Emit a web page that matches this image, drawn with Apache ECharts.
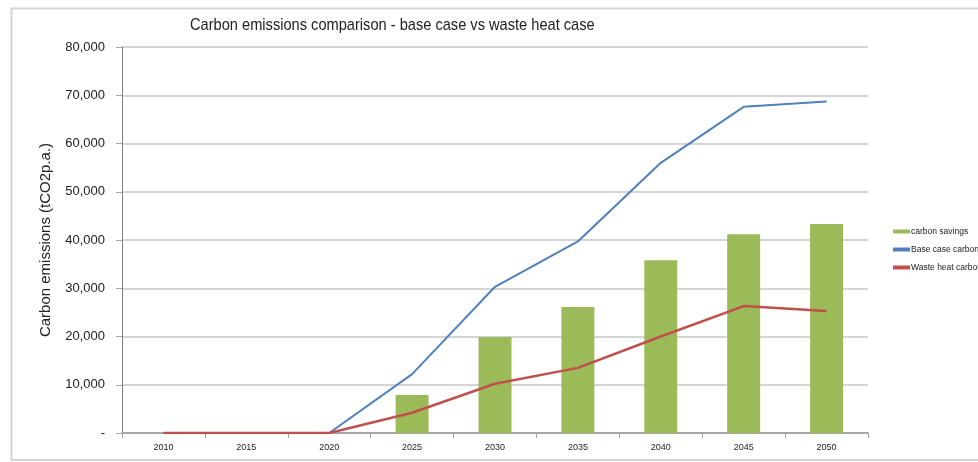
<!DOCTYPE html>
<html>
<head>
<meta charset="utf-8">
<script src="https://cdn.jsdelivr.net/npm/echarts@6/dist/echarts.min.js"></script>
<style>html,body{margin:0;padding:0;background:#fff;}#c{width:978px;height:462px;}</style>
</head>
<body>
<div id="c"></div>
<script>
const years = ['2010','2015','2020','2025','2030','2035','2040','2045','2050'];
const carbonSavings = [0, 0, 0, 7900, 19900, 26100, 35800, 41200, 43300];
const baseCaseCarbon = [0, 0, 0, 12200, 30300, 39700, 56000, 67600, 68700];
const wasteHeatCarbon = [0, 0, 0, 4200, 10200, 13500, 20000, 26300, 25300];
const titleText = 'Carbon emissions comparison - base case vs waste heat case';

const chart = echarts.init(document.getElementById('c'), null, {renderer: 'canvas'});
chart.setOption({
  animation: false,
  backgroundColor: '#fff',
  graphic: [{
    type: 'polyline', silent: true,
    shape: {points: [[990, 8.5], [11.5, 8.5], [11.5, 460], [990, 460]]},
    style: {stroke: '#d4d4d4', lineWidth: 2, fill: null}
  }, {
    type: 'text', silent: true, x: 190, y: 17, scaleX: 0.86,
    style: {text: titleText, fontFamily: 'Arial, Liberation Sans, sans-serif', fontSize: 17, fill: '#222'}
  }],
  legend: {
    orient: 'vertical', left: 893, top: 227, itemGap: 9, padding: 0,
    itemWidth: 17, itemHeight: 4,
    textStyle: {fontFamily: 'Arial, Liberation Sans, sans-serif', fontSize: 8.5, color: '#222', padding: [0, 0, 0, -4]},
    data: [
      {name: 'carbon savings', icon: 'rect'},
      {name: 'Base case carbon', icon: 'rect'},
      {name: 'Waste heat carbon', icon: 'rect'}
    ]
  },
  grid: {left: 122, right: 110, top: 47, bottom: 29, containLabel: false},
  xAxis: {
    type: 'category', data: years, boundaryGap: true,
    axisLine: {lineStyle: {color: '#a6a6a6', width: 2}},
    axisTick: {show: true, length: 5, lineStyle: {color: '#a6a6a6'}, alignWithLabel: false},
    axisLabel: {fontFamily: 'Arial, Liberation Sans, sans-serif', fontSize: 9, color: '#222', margin: 10}
  },
  yAxis: {
    type: 'value', min: 0, max: 80000, interval: 10000,
    name: 'Carbon emissions (tCO2p.a.)', nameLocation: 'middle', nameGap: 69,
    nameTextStyle: {fontFamily: 'Arial, Liberation Sans, sans-serif', fontSize: 15, color: '#222'},
    axisLine: {show: true, lineStyle: {color: '#7f7f7f', width: 1}},
    axisTick: {show: true, length: 6, lineStyle: {color: '#a6a6a6'}},
    axisLabel: {
      fontFamily: 'Arial, Liberation Sans, sans-serif', fontSize: 13, color: '#222', margin: 17,
      formatter: v => v === 0 ? '-' : v.toLocaleString('en-US')
    },
    splitLine: {lineStyle: {color: '#d4d4d4', width: 2}}
  },
  series: [
    {name: 'carbon savings', type: 'bar', data: carbonSavings, barWidth: 33,
     itemStyle: {color: '#9BBB59'}, z: 2},
    {name: 'Base case carbon', type: 'line', data: baseCaseCarbon, symbol: 'none',
     lineStyle: {color: '#4F81BD', width: 2}, itemStyle: {color: '#4F81BD'}, z: 3},
    {name: 'Waste heat carbon', type: 'line', data: wasteHeatCarbon, symbol: 'none',
     lineStyle: {color: '#C0504D', width: 2.5}, itemStyle: {color: '#C0504D'}, z: 4}
  ]
});
</script>
</body>
</html>
